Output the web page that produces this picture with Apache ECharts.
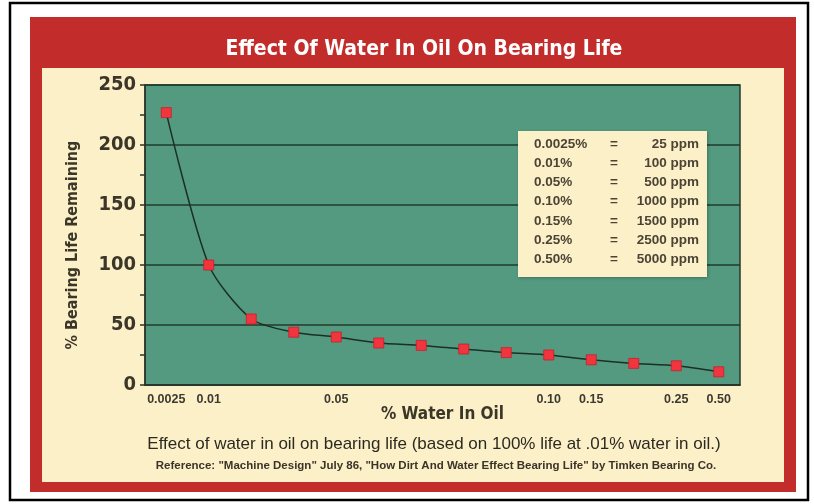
<!DOCTYPE html>
<html>
<head>
<meta charset="utf-8">
<title>Effect Of Water In Oil On Bearing Life</title>
<script src="https://cdn.jsdelivr.net/npm/echarts@6/dist/echarts.min.js"></script>
<style>
  html, body { margin: 0; padding: 0; background: #fff; }
  #chart { width: 814px; height: 504px; }
</style>
</head>
<body>
<div id="chart"></div>
<script>
  'use strict'

  /*---- values ----*/
  var waterTicks = ['0.0025', '0.01', '', '', '0.05', '', '', '', '', '0.10', '0.15', '', '0.25', '0.50'];
  var lifeRemaining = [227, 100, 55, 44, 40, 35, 33, 30, 27, 25, 21, 18, 16, 11];
  var yTicks = [0, 50, 100, 150, 200, 250];
  var tablePct = ['0.0025%', '0.01%', '0.05%', '0.10%', '0.15%', '0.25%', '0.50%'];
  var tablePpm = ['25 ppm', '100 ppm', '500 ppm', '1000 ppm', '1500 ppm', '2500 ppm', '5000 ppm'];

  var narrow = "'Liberation Sans Narrow', 'DejaVu Sans Condensed', sans-serif";
  var sans = "'Liberation Sans', Arial, sans-serif";
  var ink = '#3b3628';

  /*---- page decoration: frame, red panel, cream card, footnotes ----*/
  var decor = [
    { type: 'rect', z: -30, shape: { x: 10, y: 3, width: 798, height: 497 },
      style: { fill: '#ffffff', stroke: '#000000', lineWidth: 2.5 } },
    { type: 'rect', z: -20, shape: { x: 30, y: 17, width: 766, height: 475 },
      style: { fill: '#c22d2b' } },
    { type: 'rect', z: -10, shape: { x: 42, y: 68, width: 742, height: 414 },
      style: { fill: '#fcf0c9' } },
    { type: 'text', z: 5, x: 434, y: 444,
      style: { text: 'Effect of water in oil on bearing life (based on 100% life at .01% water in oil.)',
        fill: '#2c2a20', font: '17px ' + sans, align: 'center', verticalAlign: 'middle',
        textAlign: 'center', textVerticalAlign: 'middle' } },
    { type: 'text', z: 5, x: 436, y: 466,
      style: { text: 'Reference: "Machine Design" July 86, "How Dirt And Water Effect Bearing Life" by Timken Bearing Co.',
        fill: '#3a3428', font: 'bold 11.5px ' + sans, align: 'center', verticalAlign: 'middle',
        textAlign: 'center', textVerticalAlign: 'middle' } }
  ];

  /*---- conversion table box ----*/
  var tableRows = [];
  tablePct.forEach(function (pct, i) {
    var y = 13 + i * 19.2;
    var st = { fill: '#4b4435', font: 'bold 13.5px ' + sans, verticalAlign: 'middle', textVerticalAlign: 'middle' };
    tableRows.push({ type: 'text', z: 51, x: 16, y: y,
      style: Object.assign({ text: pct, align: 'left', textAlign: 'left' }, st) });
    tableRows.push({ type: 'text', z: 51, x: 96, y: y,
      style: Object.assign({ text: '=', align: 'center', textAlign: 'center' }, st) });
    tableRows.push({ type: 'text', z: 51, x: 181, y: y,
      style: Object.assign({ text: tablePpm[i], align: 'right', textAlign: 'right' }, st) });
  });
  var tableBox = {
    type: 'group', x: 518, y: 131, z: 50,
    children: [
      { type: 'rect', z: 50, shape: { x: 0, y: 0, width: 189, height: 146 },
        style: { fill: '#fcf0c9', shadowBlur: 3, shadowColor: 'rgba(0,0,0,0.25)', shadowOffsetX: 1, shadowOffsetY: 1 } }
    ].concat(tableRows)
  };

  var chart = echarts.init(document.getElementById('chart'));

  var option = {
    animation: false,
    title: {
      text: 'Effect Of Water In Oil On Bearing Life',
      left: 419,
      textAlign: 'center',
      top: 34,
      textStyle: { color: '#ffffff', fontFamily: narrow, fontWeight: 'bold', fontSize: 21 }
    },
    grid: {
      left: 145,
      right: 74,
      top: 85,
      bottom: 119,
      show: true,
      backgroundColor: '#539a80',
      borderColor: '#263a2c',
      borderWidth: 1.5
    },
    xAxis: {
      type: 'category',
      data: waterTicks,
      boundaryGap: true,
      name: '% Water In Oil',
      nameLocation: 'middle',
      nameGap: 21,
      nameMoveOverlap: false,
      nameTextStyle: { color: ink, fontFamily: narrow, fontWeight: 'bold', fontSize: 17 },
      axisLine: { lineStyle: { color: '#2a3528', width: 1.5 } },
      axisTick: {
        inside: true, alignWithLabel: true, interval: 0, length: 9,
        lineStyle: { color: '#1f3326', width: 1.5 }
      },
      axisLabel: {
        interval: 0, margin: 8, color: '#3d392e',
        fontFamily: sans, fontWeight: 'bold', fontSize: 12.5
      },
      splitLine: { show: false }
    },
    yAxis: {
      type: 'value',
      min: yTicks[0],
      max: yTicks[yTicks.length - 1],
      interval: yTicks[1] - yTicks[0],
      name: '% Bearing Life Remaining',
      nameLocation: 'middle',
      nameRotate: 90,
      nameGap: 64,
      nameMoveOverlap: false,
      nameTextStyle: {
        color: ink, fontFamily: narrow, fontWeight: 'bold', fontSize: 16,
        padding: [0, 20, 0, 0]
      },
      axisLine: { show: true, lineStyle: { color: '#2a3528', width: 1.5 } },
      axisTick: { show: true, length: 5, lineStyle: { color: '#2a3528', width: 1.5 } },
      minorTick: { show: true, splitNumber: 2, length: 5, lineStyle: { color: '#2a3528', width: 1.5 } },
      axisLabel: {
        margin: 9, color: ink, fontFamily: narrow, fontWeight: 'bold', fontSize: 20
      },
      splitLine: { show: true, lineStyle: { color: '#1f3a2b', width: 1.5 } }
    },
    graphic: { elements: decor.concat([tableBox]) },
    series: [{
      name: '% Bearing Life Remaining',
      type: 'line',
      data: lifeRemaining,
      smooth: 0.25,
      symbol: 'rect',
      symbolSize: 10,
      lineStyle: { color: '#1b3024', width: 1.5 },
      itemStyle: { color: '#f0353f', borderColor: '#c8202c', borderWidth: 0.8 },
      z: 3
    }]
  };
  chart.setOption(option);
</script>
</body>
</html>
